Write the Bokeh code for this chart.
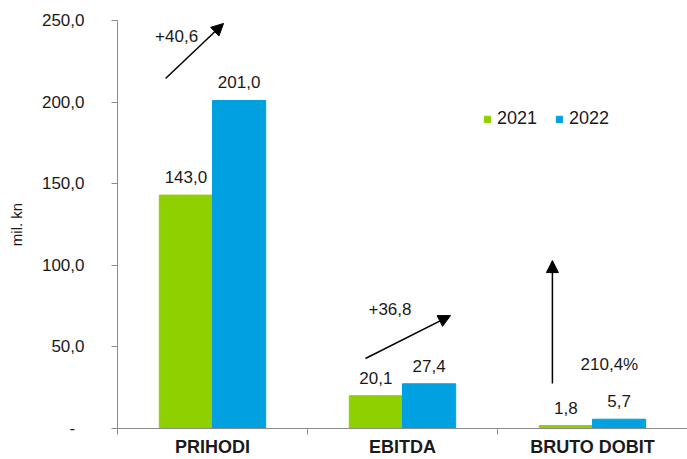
from bokeh.plotting import figure
from bokeh.models import Range1d, FixedTicker, Arrow, NormalHead, ColumnDataSource
from bokeh.core.properties import value
from bokeh.embed import file_html
from bokeh.resources import INLINE

# ---- data ----
categories = ["PRIHODI", "EBITDA", "BRUTO DOBIT"]
series_names = ["2021", "2022"]
values_2021 = [143.0, 20.1, 1.8]
values_2022 = [201.0, 27.4, 5.7]
y_ticks = [0, 50, 100, 150, 200, 250]
y_tick_labels = ["-\u00a0\u00a0", "50,0", "100,0", "150,0", "200,0", "250,0"]

# change annotations (arrows + texts), in data units
change_labels = ["+40,6", "+36,8", "210,4%"]
arrow_x0 = [0.253, 1.305, 2.289]
arrow_y0 = [214.5, 42.9, 27.6]
arrow_x1 = [0.558, 1.753, 2.289]
arrow_y1 = [248.2, 69.2, 102.9]
change_label_x = [0.311, 1.434, 2.589]
change_label_y = [240.8, 73.5, 39.2]

# ---- style ----
GREEN = "#8fd000"
BLUE = "#00a0e1"
FONT = "Liberation Sans"
TXT = "#1a1a1a"
AXIS = "#8c8c8c"
BAR_W = 0.28

p = figure(width=687, height=459, x_range=Range1d(0, 3), y_range=Range1d(0, 250),
           output_backend="svg", toolbar_location=None,
           min_border_left=117, min_border_right=0, min_border_top=20, min_border_bottom=31)
p.outline_line_color = None
p.xgrid.grid_line_color = None
p.ygrid.grid_line_color = None
p.background_fill_color = "white"
p.border_fill_color = "white"

centers = [i + 0.5 for i in range(len(categories))]
x21 = [c - BAR_W / 2 for c in centers]
x22 = [c + BAR_W / 2 for c in centers]

fmt = lambda v: f"{v:.1f}".replace(".", ",")

src21 = ColumnDataSource(dict(x=x21, top=values_2021, lab=[fmt(v) for v in values_2021]))
src22 = ColumnDataSource(dict(x=x22, top=values_2022, lab=[fmt(v) for v in values_2022]))

p.vbar(x="x", top="top", width=BAR_W, bottom=0, source=src21, fill_color=GREEN,
       line_color=GREEN, legend_label=series_names[0])
p.vbar(x="x", top="top", width=BAR_W, bottom=0, source=src22, fill_color=BLUE,
       line_color=BLUE, legend_label=series_names[1])

for s in (src21, src22):
    p.text(x="x", y="top", text="lab", source=s, text_align="center",
           text_baseline="middle", y_offset=-18, text_font=value(FONT),
           text_font_size="17px", text_color=TXT)

# arrows
for i in range(len(change_labels)):
    p.add_layout(Arrow(end=NormalHead(size=12, fill_color="black", line_color="black", line_width=1),
                       x_start=arrow_x0[i], y_start=arrow_y0[i],
                       x_end=arrow_x1[i], y_end=arrow_y1[i],
                       line_color="black", line_width=1.5))
p.text(x=change_label_x, y=change_label_y, text=change_labels, text_align="center",
       text_baseline="middle", text_font=value(FONT), text_font_size="17px", text_color=TXT)

# x axis
xa = p.xaxis[0]
xa.ticker = FixedTicker(ticks=centers, minor_ticks=[0, 1, 2, 3])
xa.major_label_overrides = {c: categories[i] for i, c in enumerate(centers)}
xa.major_tick_out = 0
xa.major_tick_in = 0
xa.minor_tick_out = 6
xa.minor_tick_in = 0
xa.axis_line_color = AXIS
xa.minor_tick_line_color = AXIS
xa.major_label_text_font = FONT
xa.major_label_text_font_size = "18px"
xa.major_label_text_font_style = "bold"
xa.major_label_text_color = TXT
xa.major_label_standoff = 2

# y axis
ya = p.yaxis[0]
ya.ticker = FixedTicker(ticks=y_ticks, minor_ticks=[])
ya.major_label_overrides = {t: y_tick_labels[i] for i, t in enumerate(y_ticks)}
ya.major_tick_out = 6
ya.major_tick_in = 0
ya.minor_tick_out = 0
ya.minor_tick_in = 0
ya.axis_line_color = AXIS
ya.major_tick_line_color = AXIS
ya.major_label_text_font = FONT
ya.major_label_text_font_size = "17px"
ya.major_label_text_color = TXT
ya.major_label_standoff = 27
ya.axis_label = "mil. kn"
ya.axis_label_text_font = FONT
ya.axis_label_text_font_size = "15px"
ya.axis_label_text_font_style = "normal"
ya.axis_label_text_color = TXT
ya.axis_label_standoff = 14

# legend
lg = p.legend[0]
lg.location = (366, 299)
lg.orientation = "horizontal"
lg.glyph_width = 8
lg.glyph_height = 8
lg.label_standoff = 6
lg.spacing = 18
lg.padding = 0
lg.margin = 0
lg.border_line_color = None
lg.background_fill_alpha = 0
lg.label_text_font = FONT
lg.label_text_font_size = "18px"
lg.label_text_color = TXT

open("out.html", "w").write(file_html(p, INLINE))
